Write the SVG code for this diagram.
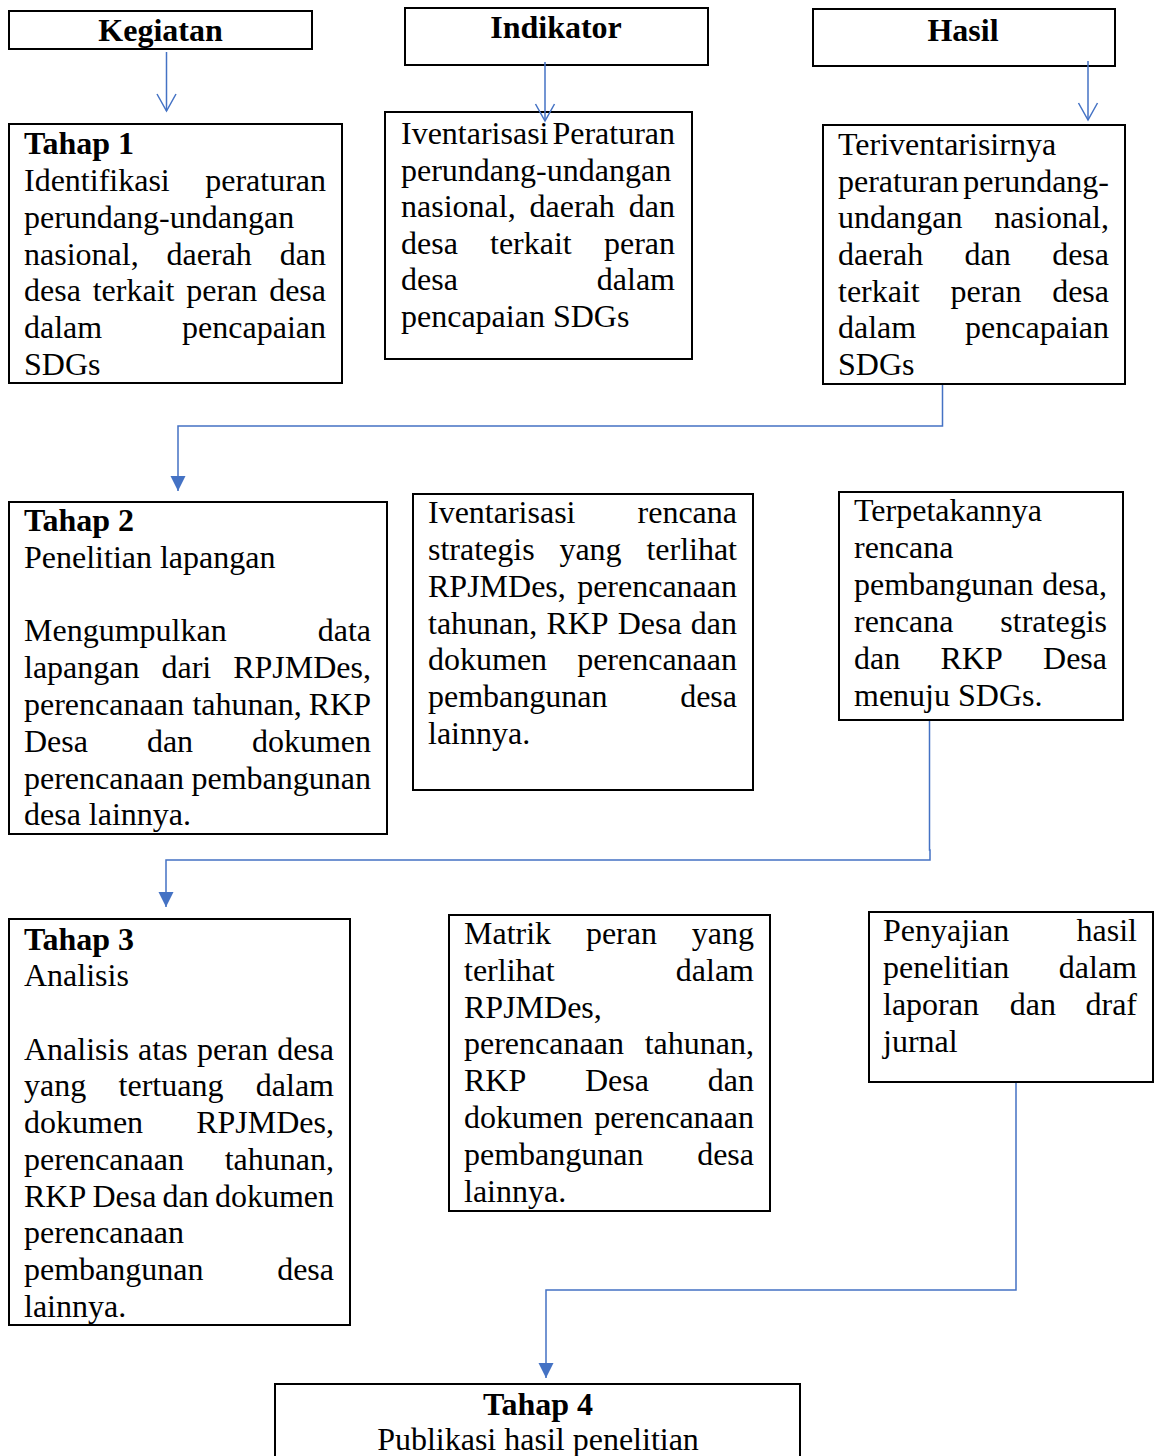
<svg xmlns="http://www.w3.org/2000/svg" width="1156" height="1456" viewBox="0 0 1156 1456">
<style>
.box{fill:#fff;stroke:#000;stroke-width:2}
.t{font-family:"Liberation Serif","Times New Roman",serif;font-size:32px;fill:#000}
.b{font-weight:bold}
.e{text-anchor:end}
.m{text-anchor:middle}
.c{fill:none;stroke:#4472C4;stroke-width:1.5}
</style>
<defs>
<marker id="open" markerUnits="userSpaceOnUse" markerWidth="20" markerHeight="20" viewBox="0 0 20 20" refX="17" refY="10" orient="auto" overflow="visible">
<path d="M0 0.5 L17 10 L0 19.5" fill="none" stroke="#4472C4" stroke-width="1.5"/>
</marker>
<marker id="fill" markerUnits="userSpaceOnUse" markerWidth="16" markerHeight="16" viewBox="0 0 16 16" refX="15" refY="7.5" orient="auto" overflow="visible">
<path d="M0 0 L15 7.5 L0 15 Z" fill="#4472C4"/>
</marker>
</defs>
<rect width="1156" height="1456" fill="#fff"/>

<g id="kegiatan">
<rect class="box" x="9" y="11" width="303" height="38"/>
<text class="t b m" x="160.5" y="41">Kegiatan</text>
</g>
<g id="indikator">
<rect class="box" x="405" y="8" width="303" height="57"/>
<text class="t b m" x="556" y="38">Indikator</text>
</g>
<g id="hasil">
<rect class="box" x="813" y="9" width="302" height="57"/>
<text class="t b m" x="963" y="41">Hasil</text>
</g>

<g id="tahap1">
<rect class="box" x="9" y="124" width="333" height="259"/>
<text class="t b" x="24" y="154">Tahap 1</text>
<text class="t" x="24" y="191">Identifikasi</text><text class="t e" x="326" y="191">peraturan</text>
<text class="t" x="24" y="228">perundang-undangan</text>
<text class="t" x="24" y="265">nasional,</text><text class="t" x="166.6" y="265">daerah</text><text class="t e" x="326" y="265">dan</text>
<text class="t" x="24" y="301">desa</text><text class="t" x="92.7" y="301">terkait</text><text class="t" x="186.3" y="301">peran</text><text class="t e" x="326" y="301">desa</text>
<text class="t" x="24" y="338">dalam</text><text class="t e" x="326" y="338">pencapaian</text>
<text class="t" x="24" y="375">SDGs</text>
</g>

<g id="indikator1">
<rect class="box" x="385" y="112" width="307" height="247"/>
<text class="t" x="401" y="144">Iventarisasi</text><text class="t e" x="675" y="144">Peraturan</text>
<text class="t" x="401" y="181">perundang-undangan</text>
<text class="t" x="401" y="217">nasional,</text><text class="t" x="529.6" y="217">daerah</text><text class="t e" x="675" y="217">dan</text>
<text class="t" x="401" y="254">desa</text><text class="t" x="490" y="254">terkait</text><text class="t e" x="675" y="254">peran</text>
<text class="t" x="401" y="290">desa</text><text class="t e" x="675" y="290">dalam</text>
<text class="t" x="401" y="327">pencapaian SDGs</text>
</g>

<g id="hasil1">
<rect class="box" x="823" y="125" width="302" height="259"/>
<text class="t" x="838" y="155">Teriventarisirnya</text>
<text class="t" x="838" y="192">peraturan</text><text class="t e" x="1109" y="192">perundang-</text>
<text class="t" x="838" y="228">undangan</text><text class="t e" x="1109" y="228">nasional,</text>
<text class="t" x="838" y="265">daerah</text><text class="t" x="964.6" y="265">dan</text><text class="t e" x="1109" y="265">desa</text>
<text class="t" x="838" y="302">terkait</text><text class="t" x="950.4" y="302">peran</text><text class="t e" x="1109" y="302">desa</text>
<text class="t" x="838" y="338">dalam</text><text class="t e" x="1109" y="338">pencapaian</text>
<text class="t" x="838" y="375">SDGs</text>
</g>

<g id="tahap2">
<rect class="box" x="9" y="502" width="378" height="332"/>
<text class="t b" x="24" y="531">Tahap 2</text>
<text class="t" x="24" y="568">Penelitian lapangan</text>
<text class="t" x="24" y="641">Mengumpulkan</text><text class="t e" x="371" y="641">data</text>
<text class="t" x="24" y="678">lapangan</text><text class="t" x="161.5" y="678">dari</text><text class="t e" x="371" y="678">RPJMDes,</text>
<text class="t" x="24" y="715">perencanaan</text><text class="t" x="192.4" y="715">tahunan,</text><text class="t e" x="371" y="715">RKP</text>
<text class="t" x="24" y="752">Desa</text><text class="t" x="146.9" y="752">dan</text><text class="t e" x="371" y="752">dokumen</text>
<text class="t" x="24" y="789">perencanaan</text><text class="t e" x="371" y="789">pembangunan</text>
<text class="t" x="24" y="825">desa lainnya.</text>
</g>

<g id="indikator2">
<rect class="box" x="413" y="494" width="340" height="296"/>
<text class="t" x="428" y="523">Iventarisasi</text><text class="t e" x="737" y="523">rencana</text>
<text class="t" x="428" y="560">strategis</text><text class="t" x="559.4" y="560">yang</text><text class="t e" x="737" y="560">terlihat</text>
<text class="t" x="428" y="597">RPJMDes,</text><text class="t e" x="737" y="597">perencanaan</text>
<text class="t" x="428" y="634">tahunan,</text><text class="t" x="546.4" y="634">RKP</text><text class="t" x="617.7" y="634">Desa</text><text class="t e" x="737" y="634">dan</text>
<text class="t" x="428" y="670">dokumen</text><text class="t e" x="737" y="670">perencanaan</text>
<text class="t" x="428" y="707">pembangunan</text><text class="t e" x="737" y="707">desa</text>
<text class="t" x="428" y="744">lainnya.</text>
</g>

<g id="hasil2">
<rect class="box" x="839" y="492" width="284" height="228"/>
<text class="t" x="854" y="521">Terpetakannya</text>
<text class="t" x="854" y="558">rencana</text>
<text class="t" x="854" y="595">pembangunan</text><text class="t e" x="1107" y="595">desa,</text>
<text class="t" x="854" y="632">rencana</text><text class="t e" x="1107" y="632">strategis</text>
<text class="t" x="854" y="669">dan</text><text class="t" x="940.5" y="669">RKP</text><text class="t e" x="1107" y="669">Desa</text>
<text class="t" x="854" y="706">menuju SDGs.</text>
</g>

<g id="tahap3">
<rect class="box" x="9" y="919" width="341" height="406"/>
<text class="t b" x="24" y="950">Tahap 3</text>
<text class="t" x="24" y="986">Analisis</text>
<text class="t" x="24" y="1060">Analisis</text><text class="t" x="138" y="1060">atas</text><text class="t" x="196.9" y="1060">peran</text><text class="t e" x="334" y="1060">desa</text>
<text class="t" x="24" y="1096">yang</text><text class="t" x="118.6" y="1096">tertuang</text><text class="t e" x="334" y="1096">dalam</text>
<text class="t" x="24" y="1133">dokumen</text><text class="t e" x="334" y="1133">RPJMDes,</text>
<text class="t" x="24" y="1170">perencanaan</text><text class="t e" x="334" y="1170">tahunan,</text>
<text class="t" x="24" y="1207">RKP</text><text class="t" x="92.4" y="1207">Desa</text><text class="t" x="162.6" y="1207">dan</text><text class="t e" x="334" y="1207">dokumen</text>
<text class="t" x="24" y="1243">perencanaan</text>
<text class="t" x="24" y="1280">pembangunan</text><text class="t e" x="334" y="1280">desa</text>
<text class="t" x="24" y="1317">lainnya.</text>
</g>

<g id="indikator3">
<rect class="box" x="449" y="915" width="321" height="296"/>
<text class="t" x="464" y="944">Matrik</text><text class="t" x="585.9" y="944">peran</text><text class="t e" x="754" y="944">yang</text>
<text class="t" x="464" y="981">terlihat</text><text class="t e" x="754" y="981">dalam</text>
<text class="t" x="464" y="1018">RPJMDes,</text>
<text class="t" x="464" y="1054">perencanaan</text><text class="t e" x="754" y="1054">tahunan,</text>
<text class="t" x="464" y="1091">RKP</text><text class="t" x="585" y="1091">Desa</text><text class="t e" x="754" y="1091">dan</text>
<text class="t" x="464" y="1128">dokumen</text><text class="t e" x="754" y="1128">perencanaan</text>
<text class="t" x="464" y="1165">pembangunan</text><text class="t e" x="754" y="1165">desa</text>
<text class="t" x="464" y="1202">lainnya.</text>
</g>

<g id="hasil3">
<rect class="box" x="869" y="912" width="284" height="170"/>
<text class="t" x="883" y="941">Penyajian</text><text class="t e" x="1137" y="941">hasil</text>
<text class="t" x="883" y="978">penelitian</text><text class="t e" x="1137" y="978">dalam</text>
<text class="t" x="883" y="1015">laporan</text><text class="t" x="1009.7" y="1015">dan</text><text class="t e" x="1137" y="1015">draf</text>
<text class="t" x="883" y="1052">jurnal</text>
</g>

<g id="tahap4">
<rect class="box" x="275" y="1384" width="525" height="90"/>
<text class="t b m" x="538" y="1415">Tahap 4</text>
<text class="t m" x="538" y="1450">Publikasi hasil penelitian</text>
</g>

<g id="connectors">
<path class="c" d="M166.5 52 V111" marker-end="url(#open)"/>
<path class="c" d="M545 62 V121" marker-end="url(#open)"/>
<path class="c" d="M1088 61 V120" marker-end="url(#open)"/>
<path class="c" d="M942.5 385 V426 H178 V491" marker-end="url(#fill)"/>
<path class="c" d="M929.5 721 V850 H930 V860 H166 V907" marker-end="url(#fill)"/>
<path class="c" d="M1016 1083 V1290 H546 V1378" marker-end="url(#fill)"/>
</g>
</svg>
